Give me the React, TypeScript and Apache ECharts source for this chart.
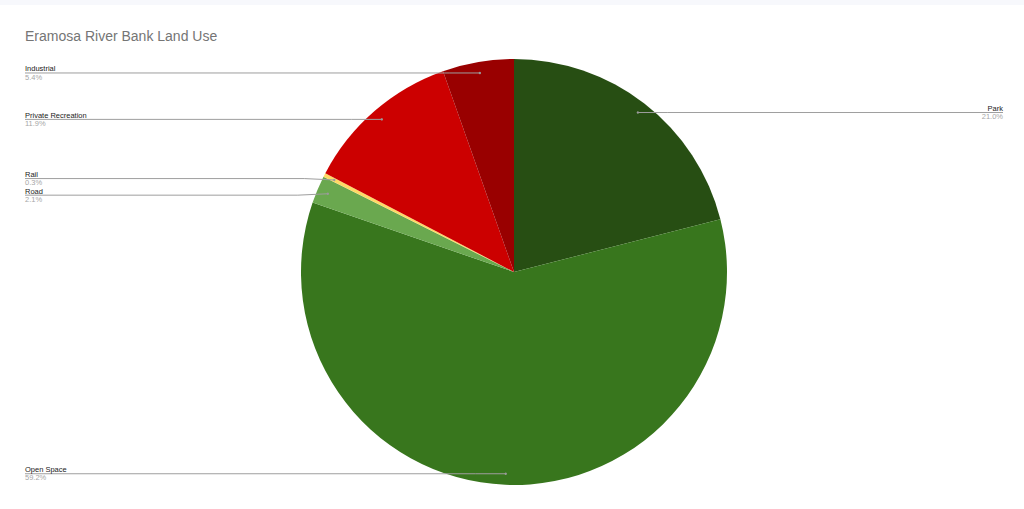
import React, { useEffect, useRef } from "react";
import * as echarts from "echarts";

const chartTitle = "Eramosa River Bank Land Use";
const categories = ["Park", "Open Space", "Road", "Rail", "Private Recreation", "Industrial"];
const values = [21.0, 59.2, 2.1, 0.3, 11.9, 5.4];
const colors = ["#274e13", "#38761d", "#6aa84f", "#ffd966", "#cc0000", "#990000"];

const W = 1024;
const H = 509;
const CX = 514;
const CY = 272;
const R = 213;
const LEFT_EDGE = 25;
const RIGHT_EDGE = 1003;
const MIN_GAP = 16.6;
const FONT = "'Liberation Sans', Arial, sans-serif";

function anchor(i: number): [number, number] {
  const total = values.reduce((a, b) => a + b, 0);
  let cum = 0;
  for (let k = 0; k < i; k++) cum += values[k];
  const a = ((cum + values[i] / 2) / total) * 2 * Math.PI;
  const r = R * 0.948;
  return [CX + r * Math.sin(a), CY - r * Math.cos(a)];
}

// label line heights, pushed apart on each side so texts do not overlap
function labelYs(): number[] {
  const pts = categories.map((_, i) => anchor(i));
  const ys = pts.map((p) => p[1]);
  [true, false].forEach((isRight) => {
    const idx = pts.map((p, i) => i).filter((i) => (pts[i][0] > CX) === isRight);
    idx.sort((a, b) => ys[a] - ys[b]);
    for (let k = 1; k < idx.length; k++) {
      const prev = idx[k - 1];
      const cur = idx[k];
      if (ys[cur] - ys[prev] < MIN_GAP) {
        const mid = (ys[cur] + ys[prev]) / 2;
        ys[prev] = mid - MIN_GAP / 2;
        ys[cur] = mid + MIN_GAP / 2;
      }
    }
  });
  return ys;
}

export default function App() {
  const ref = useRef<HTMLDivElement>(null);
  useEffect(() => {
    if (!ref.current) return;
    const chart = echarts.init(ref.current, null, { renderer: "svg" });
    const ys = labelYs();
    const dots = categories.map((_, i) => {
      const [x, y] = anchor(i);
      return {
        type: "circle",
        shape: { cx: x, cy: y, r: 1.2 },
        style: { fill: "#9a9a9a" },
        z: 100,
      };
    });
    const baseData = categories.map((c, i) => ({ name: c, value: values[i], itemStyle: { color: colors[i] } }));
    const overlayData = categories.map((c, i) => ({ name: c, value: values[i], itemStyle: { color: "rgba(0,0,0,0)" } }));
    chart.setOption({
      animation: false,
      backgroundColor: "#ffffff",
      title: {
        text: chartTitle,
        left: 20,
        top: 24,
        textStyle: { fontSize: 14, fontWeight: "normal", color: "#757575", fontFamily: FONT },
      },
      graphic: [
        { type: "rect", shape: { x: 0, y: 0, width: W, height: 5 }, style: { fill: "#f7f8fc" } },
        ...dots,
      ],
      series: [
        {
          type: "pie",
          z: 2,
          center: [CX, CY],
          radius: [0, R],
          startAngle: 90,
          clockwise: true,
          silent: true,
          label: { show: false },
          labelLine: { show: false },
          data: baseData,
        },
        {
          type: "pie",
          z: 3,
          center: [CX, CY],
          radius: [0, R],
          startAngle: 90,
          clockwise: true,
          silent: true,
          avoidLabelOverlap: false,
          data: overlayData,
          label: {
            show: true,
            position: "outside",
            formatter: (p: any) => `{n|${p.name}}\n{p|${Number(p.value).toFixed(1)}%}`,
            rich: {
              n: { fontSize: 7.5, color: "#222222", fontFamily: FONT, lineHeight: 8.2 },
              p: { fontSize: 7.5, color: "#a6a6a6", fontFamily: FONT, lineHeight: 8.2 },
            },
          },
          labelLine: { show: true, lineStyle: { color: "#9e9e9e", width: 1 } },
          labelLayout: (params: any) => {
            const i = params.dataIndex;
            const [px, py] = anchor(i);
            const ly = ys[i];
            const right = px > CX;
            const lx = right ? RIGHT_EDGE : LEFT_EDGE;
            const bend = right ? px + 30 : px - 30;
            return {
              x: lx,
              y: ly,
              align: right ? "right" : "left",
              verticalAlign: "middle",
              labelLinePoints: [
                [px, py],
                [bend, ly],
                [lx, ly],
              ],
            };
          },
        },
      ],
    });
    return () => chart.dispose();
  }, []);
  return <div ref={ref} style={{ position: "fixed", left: 0, top: 0, width: W, height: H }} />;
}
